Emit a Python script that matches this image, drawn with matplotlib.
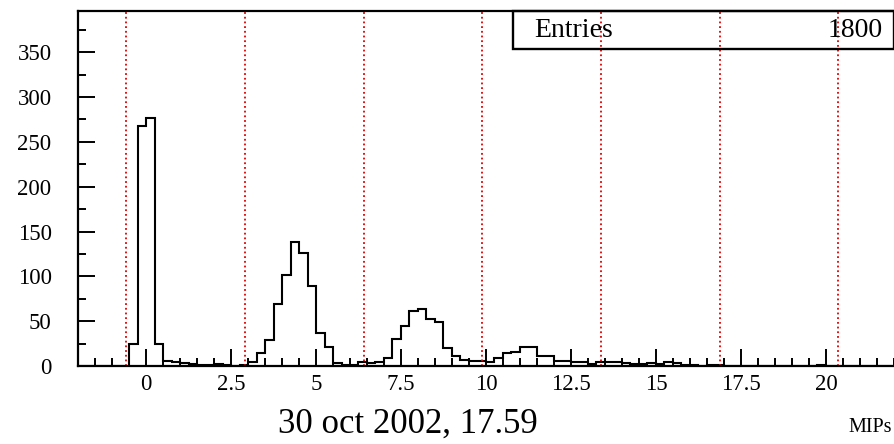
# coding:utf-8
import numpy as np
import matplotlib.pyplot as plt
from matplotlib.patches import Rectangle
from matplotlib.ticker import MultipleLocator

# histogram: 96 bins of 0.25 MIPs from -2 to 22
x_min = -2.0
x_max = 22.0
bin_width = 0.25
counts = [
    0, 0, 0, 0, 0, 0,                                   # -2.0 .. -0.75
    25, 268, 277, 25,                                   # -0.5 .. 0.25
    6, 4, 3, 2, 1, 1, 2, 1, 0, 1,                       # 0.5 .. 2.75
    5, 14, 29, 69, 102, 138, 126, 89, 37, 21,           # 3.0 .. 5.25
    3, 1, 1, 4, 3, 5,                                   # 5.5 .. 6.75
    9, 30, 45, 61, 64, 52, 49, 20, 11, 7, 6, 6,         # 7.0 .. 9.75
    4, 9, 15, 16, 21, 21, 11, 11, 6, 6, 4, 4,           # 10.0 .. 12.75
    2, 4, 4, 4, 3, 2, 2, 3, 2, 4, 3, 1,                 # 13.0 .. 15.75
    1, 0, 1, 1,                                         # 16.0 .. 16.75
    0, 0, 0, 0, 0, 0, 0, 0, 0, 0, 0, 1,                 # 17.0 .. 19.75
    0, 0, 0, 0, 0, 0, 0, 0,                             # 20.0 .. 21.75
]

# red dotted cut positions
cut_positions = [-0.58, 2.91, 6.40, 9.89, 13.38, 16.87, 20.36]

entries = 1800
date_label = "30 oct 2002, 17.59"
unit_label = "MIPs"


def __main():

    plt.rcParams['font.family'] = ['Liberation Serif', 'DejaVu Serif']

    fig = plt.figure(figsize=(8.95, 4.44), dpi=100)
    ax = fig.add_axes([78 / 895, 78 / 444, 816 / 895, 355 / 444])

    edges = x_min + bin_width * np.arange(len(counts) + 1)
    ax.stairs(counts, edges, color="black", linewidth=1.5)

    for xc in cut_positions:
        ax.axvline(xc, color="#e00000", linestyle=(0, (1, 1.6)),
                   linewidth=1.3, zorder=1)

    ax.set_xlim(x_min, x_max)
    ax.set_ylim(0, 396)

    ax.xaxis.set_major_locator(MultipleLocator(2.5))
    ax.xaxis.set_minor_locator(MultipleLocator(0.5))
    ax.yaxis.set_major_locator(MultipleLocator(50))
    ax.yaxis.set_minor_locator(MultipleLocator(25))
    ax.xaxis.set_major_formatter(plt.FuncFormatter(lambda v, p: "%g" % v))
    ax.set_yticks(np.arange(0, 351, 50))

    ax.tick_params(axis="both", which="both", direction="in",
                   width=1.4, labelsize=16.5, top=False, right=False)
    ax.tick_params(axis="both", which="major", length=12)
    ax.tick_params(axis="both", which="minor", length=6)
    ax.tick_params(axis="x", which="major", pad=6)
    ax.tick_params(axis="y", which="major", pad=19)

    for side in ["left", "bottom", "top"]:
        ax.spines[side].set_linewidth(1.6)
    ax.spines["right"].set_visible(False)

    # stats box
    ax.add_patch(Rectangle((0.533, 0.893), 0.467, 0.107,
                           transform=ax.transAxes, facecolor="none",
                           edgecolor="black", linewidth=1.7, zorder=3,
                           clip_on=False))
    ax.text(0.559, 0.945, "Entries", transform=ax.transAxes,
            fontsize=20, ha="left", va="center")
    ax.text(0.986, 0.945, str(entries), transform=ax.transAxes,
            fontsize=20, ha="right", va="center")

    fig.text(408 / 895, 1 - 424 / 444, date_label, fontsize=25,
             ha="center", va="center")
    fig.text(870 / 895, 1 - 427 / 444, unit_label, fontsize=14.5,
             ha="center", va="center")

    fig.savefig("out.png", dpi=100)


if __name__ == "__main__":
    __main()
